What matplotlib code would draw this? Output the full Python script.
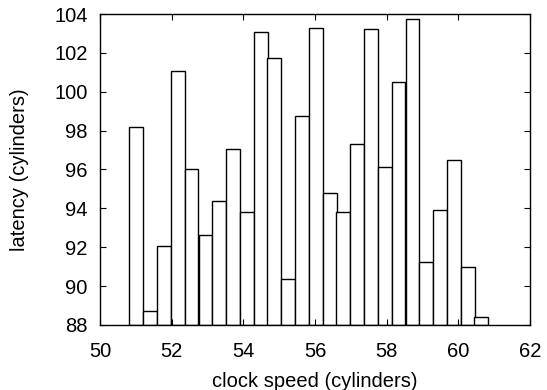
import matplotlib
matplotlib.use('Agg')
import matplotlib.pyplot as plt

plt.rcParams['font.family'] = ['Liberation Sans', 'DejaVu Sans']

# bar centres (clock speed) and heights (latency)
clock = [51.01, 51.40, 51.78, 52.17, 52.55, 52.94, 53.32, 53.71, 54.09,
         54.48, 54.86, 55.25, 55.63, 56.02, 56.41, 56.79, 57.18, 57.56,
         57.95, 58.33, 58.72, 59.10, 59.49, 59.87, 60.26, 60.64]
latency = [98.17, 88.71, 92.05, 101.05, 96.03, 92.61, 94.36, 97.04, 93.83,
           103.07, 101.74, 90.37, 98.75, 103.26, 94.81, 93.83, 97.31, 103.21,
           96.11, 100.52, 103.73, 91.24, 93.92, 96.51, 90.97, 88.38]
bar_w = 0.385

fig = plt.figure(figsize=(5.47, 3.9), dpi=100)
ax = fig.add_axes([0.183, 0.167, 0.786, 0.797])

ax.bar(clock, [v - 88 for v in latency], width=bar_w, bottom=88,
       facecolor='white', edgecolor='black', linewidth=1.0)

ax.set_xlim(50, 62)
ax.set_ylim(88, 104)
ax.set_xticks(range(50, 63, 2))
ax.set_yticks(range(88, 105, 2))
ax.tick_params(direction='in', length=4, width=0.8, top=True, right=True,
               labelsize=14.5)
ax.tick_params(axis='x', pad=12)
ax.tick_params(axis='y', pad=9)
for s in ax.spines.values():
    s.set_linewidth(1.0)

ax.set_xlabel('clock speed (cylinders)', fontsize=14.5, labelpad=8)
ax.set_ylabel('latency (cylinders)', fontsize=14.5, labelpad=18)

fig.savefig('out.png', dpi=100)
